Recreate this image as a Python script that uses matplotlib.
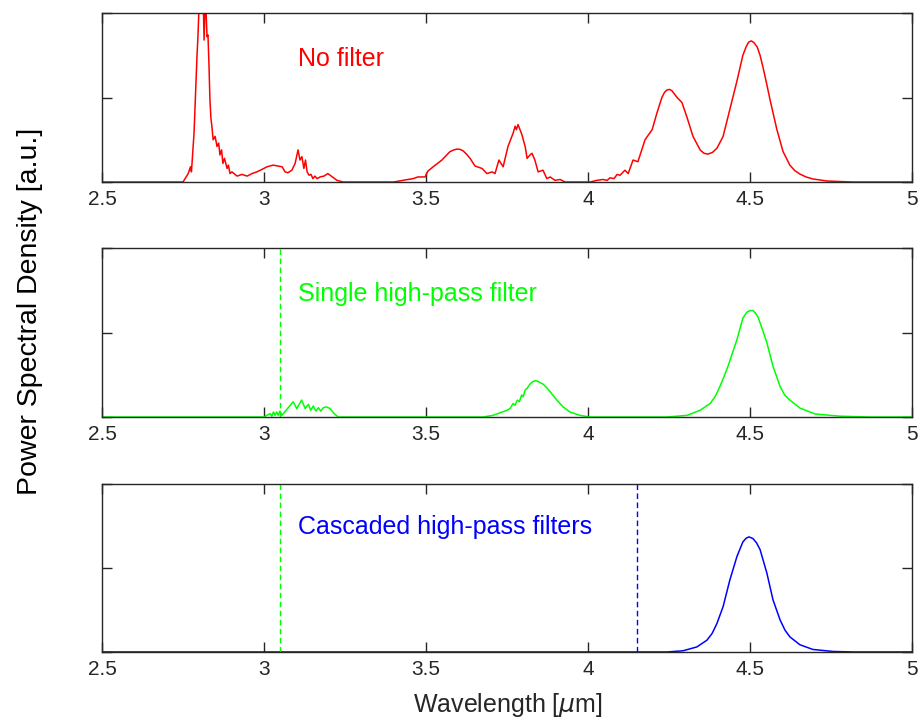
import matplotlib
matplotlib.use("Agg")
import matplotlib.pyplot as plt

plt.rcParams['font.family'] = ['Liberation Sans', 'DejaVu Sans']

# Unfiltered spectrum (wavelength in um, PSD in a.u.)
wl_none = [2.50, 2.75, 2.766, 2.773, 2.776, 2.781, 2.784, 2.793, 2.796, 2.801,
           2.805, 2.812, 2.815, 2.819, 2.824, 2.827, 2.830, 2.833, 2.836, 2.839,
           2.843, 2.849, 2.855, 2.860, 2.864, 2.869, 2.873, 2.878, 2.886, 2.890,
           2.895, 2.901, 2.917, 2.932, 2.948, 2.963, 2.978, 2.994, 3.009, 3.028,
           3.043, 3.056, 3.065, 3.074, 3.086, 3.096, 3.105, 3.111, 3.117, 3.123,
           3.128, 3.133, 3.139, 3.145, 3.151, 3.157, 3.164, 3.173, 3.185, 3.197,
           3.225, 3.244, 3.40, 3.429, 3.460, 3.475, 3.497, 3.506, 3.522, 3.549,
           3.574, 3.586, 3.596, 3.605, 3.614, 3.625, 3.636, 3.651, 3.673, 3.688,
           3.704, 3.713, 3.725, 3.738, 3.753, 3.769, 3.775, 3.779, 3.784, 3.796,
           3.806, 3.812, 3.821, 3.827, 3.836, 3.846, 3.861, 3.873, 3.883, 3.898,
           3.914, 3.929, 4.006, 4.028, 4.046, 4.059, 4.068, 4.080, 4.090, 4.099,
           4.114, 4.124, 4.139, 4.154, 4.176, 4.198, 4.213, 4.228, 4.236, 4.244,
           4.252, 4.259, 4.267, 4.275, 4.290, 4.306, 4.324, 4.346, 4.358, 4.370,
           4.384, 4.398, 4.417, 4.438, 4.460, 4.478, 4.488, 4.496, 4.504, 4.512,
           4.522, 4.531, 4.540, 4.551, 4.562, 4.583, 4.602, 4.623, 4.638, 4.654,
           4.673, 4.694, 4.738, 4.818, 5.00]
psd_none = [0.0, 0.0, 0.05, 0.09, 0.06, 0.20, 0.29, 0.74, 0.86, 1.12,
            1.15, 1.10, 0.84, 1.12, 0.86, 0.87, 0.70, 0.49, 0.38, 0.33,
            0.25, 0.27, 0.21, 0.23, 0.16, 0.19, 0.11, 0.14, 0.08, 0.10,
            0.05, 0.06, 0.035, 0.045, 0.035, 0.05, 0.06, 0.075, 0.09, 0.10,
            0.095, 0.09, 0.06, 0.055, 0.07, 0.11, 0.19, 0.13, 0.15, 0.08,
            0.13, 0.06, 0.04, 0.045, 0.02, 0.035, 0.02, 0.03, 0.035, 0.05,
            0.01, 0.0, 0.0, 0.01, 0.02, 0.03, 0.03, 0.065, 0.09, 0.13,
            0.18, 0.19, 0.195, 0.193, 0.185, 0.165, 0.14, 0.095, 0.08, 0.05,
            0.06, 0.05, 0.13, 0.09, 0.21, 0.29, 0.33, 0.31, 0.34, 0.28,
            0.21, 0.14, 0.16, 0.17, 0.13, 0.06, 0.07, 0.02, 0.03, 0.01,
            0.015, 0.0, 0.0, 0.01, 0.015, 0.01, 0.025, 0.02, 0.045, 0.04,
            0.07, 0.05, 0.13, 0.12, 0.25, 0.31, 0.41, 0.50, 0.53, 0.545,
            0.548, 0.54, 0.52, 0.50, 0.47, 0.38, 0.27, 0.19, 0.17, 0.165,
            0.175, 0.20, 0.27, 0.43, 0.60, 0.75, 0.80, 0.828, 0.835, 0.825,
            0.80, 0.75, 0.68, 0.585, 0.485, 0.31, 0.18, 0.10, 0.068, 0.047,
            0.03, 0.018, 0.006, 0.0, 0.0]

# Spectrum after a single high-pass filter
wl_single = [2.50, 3.00, 3.008, 3.019, 3.024, 3.029, 3.034, 3.039, 3.044, 3.049,
             3.055, 3.090, 3.101, 3.116, 3.127, 3.137, 3.144, 3.152, 3.160, 3.168,
             3.175, 3.183, 3.193, 3.204, 3.214, 3.229, 3.676, 3.707, 3.728, 3.750,
             3.759, 3.769, 3.775, 3.782, 3.788, 3.795, 3.800, 3.806, 3.812, 3.821,
             3.830, 3.837, 3.843, 3.851, 3.861, 3.872, 3.883, 3.904, 3.923, 3.944,
             3.975, 4.006, 4.244, 4.306, 4.346, 4.377, 4.392, 4.407, 4.420, 4.432,
             4.446, 4.460, 4.478, 4.490, 4.500, 4.509, 4.517, 4.525, 4.538, 4.552,
             4.571, 4.593, 4.607, 4.623, 4.654, 4.701, 4.778, 4.870, 5.00]
psd_single = [0.0, 0.0, 0.01, 0.02, 0.005, 0.03, 0.01, 0.03, 0.01, 0.035,
              0.01, 0.09, 0.05, 0.10, 0.05, 0.075, 0.04, 0.065, 0.035, 0.055,
              0.035, 0.055, 0.06, 0.05, 0.025, 0.0, 0.0, 0.01, 0.025, 0.04,
              0.05, 0.08, 0.07, 0.10, 0.09, 0.13, 0.12, 0.16, 0.17, 0.195,
              0.21, 0.215, 0.213, 0.205, 0.195, 0.175, 0.15, 0.10, 0.06, 0.03,
              0.01, 0.0, 0.0, 0.01, 0.04, 0.08, 0.12, 0.18, 0.24, 0.30,
              0.38, 0.46, 0.585, 0.62, 0.63, 0.63, 0.615, 0.59, 0.52, 0.44,
              0.30, 0.18, 0.13, 0.10, 0.053, 0.018, 0.005, 0.0, 0.0]

# Spectrum after cascaded high-pass filters
wl_cascade = [2.50, 4.244, 4.293, 4.336, 4.367, 4.383, 4.398, 4.417, 4.438, 4.460,
              4.478, 4.488, 4.497, 4.509, 4.520, 4.531, 4.552, 4.571, 4.593, 4.608,
              4.623, 4.654, 4.694, 4.756, 4.818, 5.00]
psd_cascade = [0.0, 0.0, 0.007, 0.03, 0.07, 0.11, 0.17, 0.27, 0.43, 0.57,
               0.655, 0.677, 0.685, 0.675, 0.65, 0.61, 0.47, 0.31, 0.19, 0.13,
               0.09, 0.043, 0.015, 0.003, 0.0, 0.0]

# Filter cut-on wavelengths
cut_single = 3.05
cut_cascade = 4.15

xticks = [2.5, 3, 3.5, 4, 4.5, 5]
xticklabels = ['2.5', '3', '3.5', '4', '4.5', '5']
labels = ['No filter', 'Single high-pass filter', 'Cascaded high-pass filters']

RED = '#ff0000'
GREEN = '#00ff00'
BLUE = '#0000ff'
AXC = '#262626'

fig = plt.figure(figsize=(9.2, 7.22), dpi=100)
left, width = 0.1109, 0.8804
rects = [(left, 0.7479, width, 0.2341),
         (left, 0.4224, width, 0.2341),
         (left, 0.0970, width, 0.2327)]
axes = [fig.add_axes(r) for r in rects]

axes[0].plot(wl_none, psd_none, color=RED, lw=1.1)
axes[1].plot(wl_single, psd_single, color=GREEN, lw=1.1)
axes[1].axvline(cut_single, color=GREEN, lw=1.0, ls=(0, (4, 2.5)))
axes[2].plot(wl_cascade, psd_cascade, color=BLUE, lw=1.1)
axes[2].axvline(cut_single, color=GREEN, lw=1.0, ls=(0, (4, 2.5)))
axes[2].axvline(cut_cascade, color=BLUE, lw=1.0, ls=(0, (4, 2.5)))

for ax, lab, col, ty in zip(axes, labels, [RED, GREEN, BLUE], [0.73, 0.73, 0.745]):
    ax.set_xlim(2.5, 5)
    ax.set_ylim(0, 1)
    ax.set_xticks(xticks)
    ax.set_xticklabels(xticklabels)
    ax.set_yticks([0, 0.5, 1])
    ax.set_yticklabels([])
    ax.tick_params(direction='in', length=7, width=1.0, colors=AXC,
                   top=True, right=True, labelsize=15, pad=6)
    for s in ax.spines.values():
        s.set_color(AXC)
        s.set_linewidth(1.0)
    ax.text(3.105, ty, lab, color=col, fontsize=18, va='center', ha='left')

fig.text(0.033, 0.569, 'Power Spectral Density [a.u.]', rotation=90,
         ha='center', va='center', fontsize=20.5, color='black')
fig.text(0.552, 0.024, r'Wavelength [$\mu$m]', ha='center', va='center',
         fontsize=18, color=AXC)

fig.savefig('out.png', dpi=100)
